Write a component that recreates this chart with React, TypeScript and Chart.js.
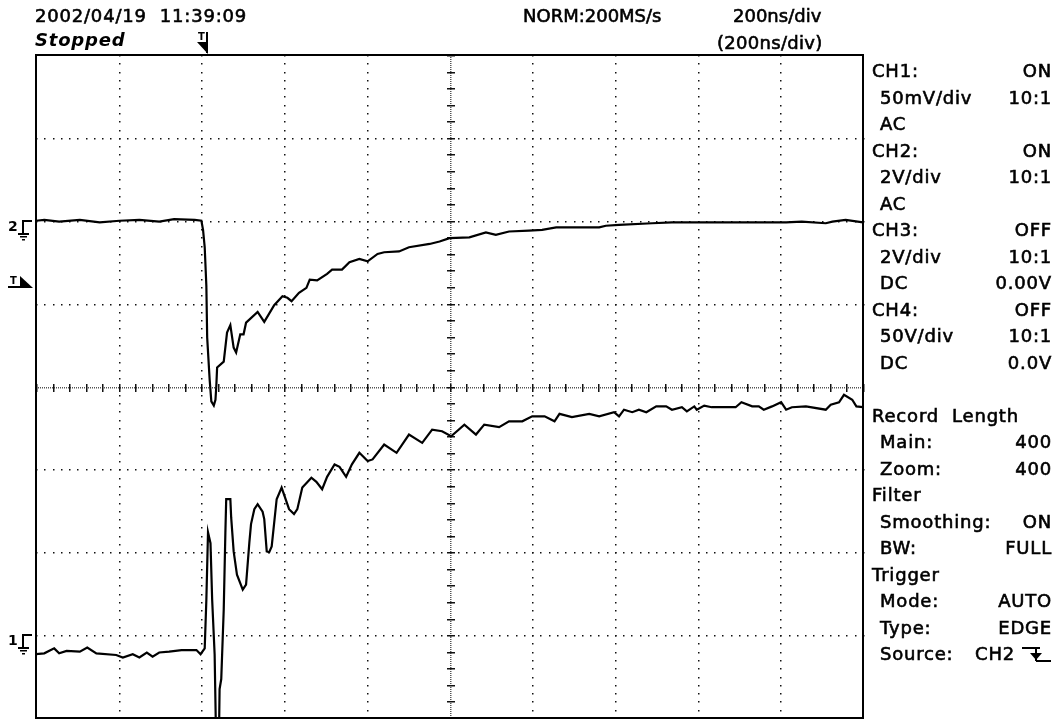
import React, { useEffect, useRef } from "react";
import { Chart, registerables } from "chart.js";

Chart.register(...registerables);

// Horizontal axis in divisions (200 ns/div, 10 div); vertical in divisions (8 div)
const X_MIN = 0;
const X_MAX = 10;
const Y_MIN = -4;
const Y_MAX = 4;

// CH2 (upper trace), time [div] / level [div]
const CH2_T = [0.00,0.10,0.28,0.53,0.77,1.01,1.25,1.49,1.67,1.92,2.00,2.02,2.04,2.06,2.07,2.10,2.12,2.15,2.17,2.18,2.19,2.27,2.31,2.35,2.39,2.42,2.47,2.51,2.54,2.68,2.76,2.88,2.98,3.04,3.09,3.18,3.27,3.31,3.40,3.52,3.58,3.70,3.79,3.91,4.01,4.13,4.21,4.39,4.51,4.76,4.88,5.00,5.24,5.44,5.56,5.72,5.96,6.12,6.29,6.81,6.89,7.05,7.45,7.69,7.98,8.26,8.66,9.07,9.26,9.55,9.63,9.79,10.00];
const CH2_V = [2.00,2.01,1.99,2.01,1.98,2.00,2.01,1.99,2.02,2.01,2.00,1.89,1.68,1.21,0.59,0.08,-0.18,-0.23,-0.16,0.00,0.23,0.30,0.65,0.74,0.47,0.41,0.63,0.63,0.77,0.90,0.78,0.98,1.09,1.07,1.03,1.13,1.19,1.29,1.28,1.36,1.41,1.41,1.50,1.54,1.51,1.60,1.62,1.63,1.68,1.72,1.75,1.79,1.80,1.86,1.83,1.87,1.88,1.89,1.92,1.92,1.94,1.95,1.97,1.98,1.98,1.98,1.98,1.98,1.99,1.97,1.99,2.01,1.98];

// CH1 (lower trace)
const CH1_T = [0.00,0.10,0.22,0.28,0.37,0.53,0.62,0.73,0.97,1.05,1.17,1.25,1.34,1.41,1.49,1.61,1.76,1.94,1.99,2.04,2.06,2.08,2.11,2.13,2.16,2.18,2.21,2.22,2.24,2.27,2.29,2.30,2.35,2.36,2.39,2.43,2.50,2.54,2.58,2.60,2.64,2.68,2.74,2.76,2.79,2.82,2.85,2.91,2.97,3.06,3.12,3.16,3.22,3.33,3.39,3.46,3.52,3.61,3.67,3.75,3.82,3.91,4.01,4.07,4.21,4.36,4.51,4.67,4.79,4.91,5.02,5.18,5.32,5.42,5.60,5.72,5.88,6.00,6.15,6.27,6.33,6.48,6.69,6.81,6.99,7.05,7.11,7.21,7.29,7.38,7.50,7.62,7.69,7.81,7.87,7.96,7.99,8.08,8.17,8.46,8.53,8.66,8.74,8.80,8.90,9.01,9.07,9.14,9.31,9.55,9.61,9.71,9.77,9.87,9.92,10.00];
const CH1_V = [-3.23,-3.22,-3.16,-3.22,-3.19,-3.20,-3.15,-3.22,-3.24,-3.27,-3.23,-3.27,-3.21,-3.26,-3.21,-3.20,-3.18,-3.18,-3.23,-3.16,-2.57,-1.76,-1.89,-2.57,-3.23,-4.4,-4.4,-3.65,-3.53,-2.69,-1.76,-1.36,-1.36,-1.58,-1.99,-2.27,-2.45,-2.39,-1.88,-1.66,-1.48,-1.42,-1.51,-1.60,-1.99,-2.00,-1.93,-1.36,-1.22,-1.48,-1.54,-1.48,-1.22,-1.10,-1.15,-1.24,-1.09,-0.94,-0.97,-1.09,-0.94,-0.80,-0.90,-0.88,-0.70,-0.80,-0.58,-0.68,-0.52,-0.54,-0.60,-0.46,-0.58,-0.46,-0.49,-0.42,-0.42,-0.36,-0.36,-0.42,-0.33,-0.37,-0.33,-0.36,-0.31,-0.36,-0.28,-0.31,-0.28,-0.31,-0.24,-0.24,-0.28,-0.25,-0.30,-0.24,-0.28,-0.23,-0.25,-0.25,-0.19,-0.24,-0.24,-0.28,-0.24,-0.19,-0.28,-0.25,-0.24,-0.28,-0.22,-0.19,-0.10,-0.16,-0.24,-0.25];

const CH2_GROUND = 2;
const CH1_GROUND = -3;
const TRIG_LEVEL = 1.2;
const TRIG_POS = 2.07;

const HEADER_DATE = "2002/04/19  11:39:09";
const HEADER_STATE = "Stopped";
const HEADER_RATE = "NORM:200MS/s";
const HEADER_TDIV = "200ns/div";
const HEADER_ZDIV = "(200ns/div)";

const PANEL_LABELS = ["CH1:", " 50mV/div", " AC", "CH2:", " 2V/div", " AC", "CH3:", " 2V/div", " DC", "CH4:", " 50V/div", " DC", "", "Record  Length", " Main:", " Zoom:", "Filter", " Smoothing:", " BW:", "Trigger", " Mode:", " Type:", " Source:"];
const PANEL_VALUES = ["ON", "10:1", "", "ON", "10:1", "", "OFF", "10:1", "0.00V", "OFF", "10:1", "0.0V", "", "", "400", "400", "", "ON", "FULL", "", "AUTO", "EDGE", "CH2"];

function zip(t: number[], v: number[]) {
  return t.map((x, i) => ({ x, y: v[i] }));
}

function groundMarker(ctx: CanvasRenderingContext2D, label: string, py: number) {
  ctx.fillStyle = "#000";
  ctx.font = 'bold 14px "DejaVu Sans"';
  ctx.textBaseline = "alphabetic";
  ctx.textAlign = "left";
  ctx.fillText(label, 8, py + 10);
  ctx.fillRect(22, py - 1, 10, 2);
  ctx.fillRect(22, py - 1, 2, 13);
  ctx.fillRect(18, py + 12, 11, 2);
  ctx.fillRect(20, py + 15, 7, 1.5);
  ctx.fillRect(22, py + 18, 3, 1.5);
}

const scopePlugin = {
  id: "scopeGrid",
  beforeDatasetsDraw(chart: any) {
    const { ctx, chartArea: a, scales } = chart;
    const xs = scales.x;
    const ys = scales.y;
    const xMid = (X_MIN + X_MAX) / 2;
    const yMid = (Y_MIN + Y_MAX) / 2;
    ctx.save();
    ctx.fillStyle = "#111";
    for (let i = X_MIN + 1; i < X_MAX; i++) {
      if (i === xMid) continue;
      const px = Math.round(xs.getPixelForValue(i));
      for (let k = 0; k <= (Y_MAX - Y_MIN) * 10; k++) {
        const py = Math.round(ys.getPixelForValue(Y_MIN + k / 10));
        ctx.fillRect(px, py, 1.5, 1.5);
      }
    }
    for (let j = Y_MIN + 1; j < Y_MAX; j++) {
      if (j === yMid) continue;
      const py = Math.round(ys.getPixelForValue(j));
      for (let k = 0; k <= (X_MAX - X_MIN) * 10; k++) {
        const px = Math.round(xs.getPixelForValue(X_MIN + k / 10));
        ctx.fillRect(px, py, 1.5, 1.5);
      }
    }
    const cx = Math.round(xs.getPixelForValue(xMid));
    const cy = Math.round(ys.getPixelForValue(yMid));
    ctx.fillStyle = "#555";
    for (let px = Math.ceil(a.left); px <= a.right; px += 2) ctx.fillRect(px, cy, 1, 1.5);
    for (let py = Math.ceil(a.top); py <= a.bottom; py += 2) ctx.fillRect(cx, py, 1.5, 1);
    ctx.fillStyle = "#111";
    for (let k = 0; k <= (X_MAX - X_MIN) * 5; k++) {
      const px = Math.round(xs.getPixelForValue(X_MIN + k / 5));
      ctx.fillRect(px, cy - 3, 1.5, 8);
    }
    for (let k = 0; k <= (Y_MAX - Y_MIN) * 5; k++) {
      const py = Math.round(ys.getPixelForValue(Y_MIN + k / 5));
      ctx.fillRect(cx - 3, py, 8, 1.5);
    }
    ctx.restore();
  },
  afterDraw(chart: any) {
    const { ctx, chartArea: a, scales } = chart;
    const xs = scales.x;
    const ys = scales.y;
    ctx.save();
    ctx.strokeStyle = "#000";
    ctx.lineWidth = 2;
    ctx.strokeRect(a.left, a.top, a.right - a.left, a.bottom - a.top);

    groundMarker(ctx, "2", Math.round(ys.getPixelForValue(CH2_GROUND)));
    groundMarker(ctx, "1", Math.round(ys.getPixelForValue(CH1_GROUND)));

    // trigger level marker
    const ty = Math.round(ys.getPixelForValue(TRIG_LEVEL));
    ctx.fillStyle = "#000";
    ctx.font = 'bold 10px "DejaVu Sans"';
    ctx.textAlign = "left";
    ctx.textBaseline = "alphabetic";
    ctx.fillText("T", 10, ty - 3);
    ctx.fillRect(8, ty - 1, 13, 2);
    ctx.beginPath();
    ctx.moveTo(20, ty - 11);
    ctx.lineTo(20, ty + 1);
    ctx.lineTo(33, ty + 1);
    ctx.closePath();
    ctx.fill();

    // trigger position marker
    const tx = Math.round(xs.getPixelForValue(TRIG_POS));
    ctx.fillText("T", tx - 9, 40);
    ctx.fillRect(tx - 1, 32, 2, 21);
    ctx.beginPath();
    ctx.moveTo(tx - 10, 42);
    ctx.lineTo(tx + 1, 42);
    ctx.lineTo(tx + 1, 54);
    ctx.closePath();
    ctx.fill();
    ctx.restore();
  },
};

const W = 1057;
const H = 719;
const PANEL_X = 872;
const PANEL_INDENT = 8;
const PANEL_RIGHT = 1052;
const PANEL_Y0 = 71;
const PANEL_STEP = 26.5;

const baseText: React.CSSProperties = {
  position: "absolute",
  fontFamily: '"DejaVu Sans", sans-serif',
  fontSize: 18,
  lineHeight: "22px",
  height: 22,
  letterSpacing: "0.8px",
  whiteSpace: "pre",
  color: "#000",
  WebkitTextStroke: "0.6px #000",
};

export default function App() {
  const canvasRef = useRef<HTMLCanvasElement | null>(null);

  useEffect(() => {
    const canvas = canvasRef.current;
    if (!canvas) return;
    const chart = new Chart(canvas, {
      type: "line",
      data: {
        datasets: [
          {
            label: "CH2",
            data: zip(CH2_T, CH2_V),
            borderColor: "#000",
            borderWidth: 2.2,
            pointRadius: 0,
            tension: 0,
            fill: false,
          },
          {
            label: "CH1",
            data: zip(CH1_T, CH1_V),
            borderColor: "#000",
            borderWidth: 2.2,
            pointRadius: 0,
            tension: 0,
            fill: false,
          },
        ],
      },
      options: {
        responsive: false,
        maintainAspectRatio: false,
        animation: false,
        devicePixelRatio: 1,
        layout: { padding: { left: 36, top: 55, right: W - 863, bottom: 1 } },
        plugins: { legend: { display: false }, tooltip: { enabled: false } },
        scales: {
          x: { type: "linear", min: X_MIN, max: X_MAX, display: false },
          y: { type: "linear", min: Y_MIN, max: Y_MAX, display: false },
        },
      },
      plugins: [scopePlugin],
    });
    return () => chart.destroy();
  }, []);

  return (
    <div style={{ position: "absolute", left: 0, top: 0, width: W, height: H, background: "#fff", overflow: "hidden" }}>
      <canvas ref={canvasRef} width={W} height={H} style={{ position: "absolute", left: 0, top: 0, display: "block" }} />
      <div style={{ ...baseText, left: 35, top: 16 - 11 }}>{HEADER_DATE}</div>
      <div style={{ ...baseText, left: 35, top: 40 - 11, fontStyle: "italic", fontWeight: "bold", WebkitTextStroke: "0px" }}>{HEADER_STATE}</div>
      <div style={{ ...baseText, left: 523, top: 16 - 11, letterSpacing: "0px" }}>{HEADER_RATE}</div>
      <div style={{ ...baseText, left: 733, top: 16 - 11, letterSpacing: "0px" }}>{HEADER_TDIV}</div>
      <div style={{ ...baseText, left: 717, top: 43 - 11, letterSpacing: "0.3px" }}>{HEADER_ZDIV}</div>
      {PANEL_LABELS.map((lab, i) =>
        lab ? (
          <div
            key={"l" + i}
            style={{
              ...baseText,
              left: PANEL_X + (lab.startsWith(" ") ? PANEL_INDENT : 0),
              top: PANEL_Y0 + PANEL_STEP * i - 11,
            }}
          >
            {lab.trim()}
          </div>
        ) : null
      )}
      {PANEL_VALUES.map((val, i) =>
        val ? (
          <div
            key={"v" + i}
            style={{
              ...baseText,
              right: W - PANEL_RIGHT + (i === PANEL_VALUES.length - 1 ? 37 : 0),
              top: PANEL_Y0 + PANEL_STEP * i - 11,
            }}
          >
            {val}
          </div>
        ) : null
      )}
      <svg
        width={34}
        height={18}
        style={{ position: "absolute", left: 1019, top: PANEL_Y0 + PANEL_STEP * (PANEL_VALUES.length - 1) - 8 }}
      >
        <path d="M3 2 H21 M17 2 V15 M17 15 H32" stroke="#000" strokeWidth={2} fill="none" />
        <path d="M11 7 L23 7 L17 14 Z" fill="#000" />
      </svg>
    </div>
  );
}
